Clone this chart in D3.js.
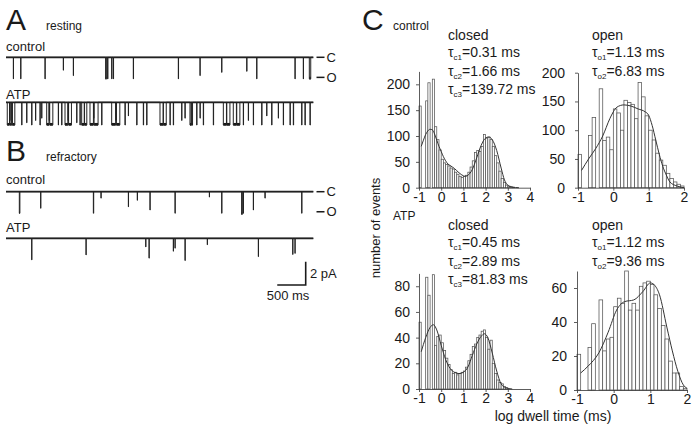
<!DOCTYPE html>
<html><head><meta charset="utf-8">
<script src="https://cdn.jsdelivr.net/npm/d3@7"></script>
<style>
body{margin:0;background:#fff;}
svg{display:block;font-family:"Liberation Sans",Arial,sans-serif;}
text{fill:#1a1a1a;}
</style></head>
<body>
<svg id="fig" width="698" height="427"></svg>
<script>
// ---------- single-channel traces: [start ms, duration ms, fraction of unitary amplitude]
const restControlEvents = [[129,3,1],[258,4,1],[685,4,1],[1007,3,0.6],[1183,3,0.85],[1750,14,1],[1785,6,1],[1857,4,1],[1886,4,1],[2237,4,1],[3028,4,1],[3409,3,0.85],[3790,3,0.7],[4230,4,0.65],[4405,4,1],[5078,4,1],[5224,4,1],[5330,25,1]];
const restATPEvents = [[22,40,1],[66,4,0.8],[72,28,1],[105,3,0.9],[110,45,1],[276,4,1],[363,4,0.9],[451,5,1],[519,4,0.8],[597,5,1],[627,3,0.7],[715,40,1],[760,3,0.8],[768,55,1],[919,4,1],[978,5,1],[1037,50,1],[1092,4,0.8],[1100,50,1],[1242,4,0.9],[1300,5,1],[1330,45,1],[1380,40,1],[1476,60,1],[1540,4,0.7],[1548,70,1],[1681,5,1],[1857,70,1],[1932,4,0.8],[1940,60,1],[2091,5,1],[2150,3,0.6],[2297,5,1],[2413,5,1],[2472,5,1],[2706,55,1],[2766,50,1],[2882,4,1],[2940,5,1],[3087,4,0.8],[3145,4,0.7],[3233,20,1],[3258,20,1],[3351,4,1],[3410,3,0.7],[3467,5,1],[3643,5,1],[3819,55,1],[3880,55,1],[3994,55,1],[4055,55,1],[4170,4,1],[4258,4,0.8],[4346,4,1],[4493,5,1],[4581,3,0.6],[4669,4,1],[4785,3,0.7],[4873,4,1],[4991,5,1],[5049,5,1],[5196,4,1],[5254,5,1],[5342,5,1]];
const refrControlEvents = [[234,10,1],[609,3,0.77],[1535,6,1],[1669,3,0.3],[2150,3,0.7],[2307,3,0.4],[2530,3,0.85],[2970,4,1],[3573,3,0.25],[3790,4,1],[4140,12,1.05],[4165,8,1],[4346,3,0.85],[4551,3,0.3],[5196,4,1]];
const refrATPEvents = [[451,4,1],[1406,3,0.77],[2455,3,0.4],[2513,4,0.92],[2940,3,0.6],[2970,3,0.46],[3145,5,1.03],[3537,3,0.3],[4434,3,0.85],[5038,4,0.75],[5078,3,0.7]];
const unitaryAmp = 1.85;   // pA
const traceDuration = 5400; // ms

// ---------- dwell-time histograms (log10 ms bins)
const closedBins = [-0.95,-0.85,-0.75,-0.65,-0.55,-0.45,-0.35,-0.25,-0.15,-0.05,0.05,0.15,0.25,0.35,0.45,0.55,0.65,0.75,0.85,0.95,1.05,1.15,1.25,1.35,1.45,1.55,1.65,1.75,1.85,1.95,2.05,2.15,2.25,2.35,2.45,2.55,2.65,2.75,2.85,2.95,3.05,3.15,3.25];
const closedControl = [158,0,0,168,203,0,210,118,93,73,55,48,45,42,38,36,30,26,22,20,22,24,30,40,52,68,72,70,80,103,96,98,93,80,62,48,32,18,10,5,3,2,1];
const closedATP = [52,0,0,87,73,0,89,34,41,42,36,30,24,19,15,12,13,11,12,13,14,17,22,27,33,35,40,42,45,46,40,31,38,20,12,7,5,4,2,1,0,0,0];
const openBins = [-0.95,-0.85,-0.75,-0.65,-0.55,-0.45,-0.35,-0.25,-0.15,-0.05,0.05,0.15,0.25,0.35,0.45,0.55,0.65,0.75,0.85,0.95,1.05,1.15,1.25,1.35,1.45,1.55,1.65,1.75,1.85,1.95];
const openControl = [58,0,0,91,122,0,172,82,88,66,137,130,100,152,148,145,120,183,158,125,100,83,60,48,39,25,16,10,6,3];
const openATP = [21,0,0,25,39,0,53,23,30,31,49,54,51,70,47,51,47,61,63,64,62,56,48,38,30,17,10,10,2,1];

// fitted curves
const fitClosedControlX = [-0.9,-0.8,-0.7,-0.6,-0.5,-0.4,-0.3,-0.2,-0.1,0,0.1,0.2,0.3,0.4,0.6,0.8,1.0,1.1,1.2,1.4,1.6,1.8,2.0,2.15,2.3,2.5,2.7,2.85,3.0,3.2,3.5];
const fitClosedControlY = [80,92,103,110,113,112,104,92,80,70,60,52,46,43,37,29,23,22,24,35,58,82,96,98,93,72,38,15,5,1,0];
const fitClosedATPX = [-0.9,-0.7,-0.5,-0.35,-0.2,0,0.2,0.4,0.6,0.8,1.0,1.2,1.4,1.6,1.8,1.95,2.1,2.3,2.5,2.7,2.9,3.2];
const fitClosedATPY = [29,40,48,50,46,34,23,16,13,12,13,17,26,35,41,43,40,28,14,4,1,0];
const fitOpenControlX = [-0.9,-0.7,-0.5,-0.3,-0.1,0,0.1,0.3,0.5,0.7,0.9,1.0,1.1,1.2,1.3,1.4,1.5,1.6,1.8,2.0];
const fitOpenControlY = [30,50,68,90,120,132,140,144,142,137,132,126,108,83,58,37,22,10,3,0];
const fitOpenATPX = [-0.9,-0.7,-0.4,-0.15,0.08,0.3,0.55,0.8,1.0,1.1,1.25,1.45,1.6,1.75,1.9,2.0];
const fitOpenATPY = [10,14,22,34,47,52,53,58,63,62,56,37,23,11,3,1];

const closedXTicks = [-1,0,1,2,3,4];
const openXTicks = [-1,0,1,2];
const closedControlYTicks = [0,50,100,150,200];
const openControlYTicks = [0,50,100,150,200];
const closedATPYTicks = [0,20,40,60,80];
const openATPYTicks = [0,20,40,60];

const tauClosedControl = [["c1","0.31"],["c2","1.66"],["c3","139.72"]];
const tauOpenControl = [["o1","1.13"],["o2","6.83"]];
const tauClosedATP = [["c1","0.45"],["c2","2.89"],["c3","81.83"]];
const tauOpenATP = [["o1","1.12"],["o2","9.36"]];

// ================= drawing =================
const svg = d3.select("#fig");
const ink = "#1a1a1a";

function txt(x,y,s,size,opts={}){
  const t = svg.append("text").attr("x",x).attr("y",y).attr("font-size",size).text(s);
  if(opts.anchor) t.attr("text-anchor",opts.anchor);
  return t;
}

// ---- traces
const tx = d3.scaleLinear().domain([0,traceDuration]).range([6,313.3]);
const pxPerPA = 11.67;
function drawTrace(events, baseY, ampPA){
  const ty = d3.scaleLinear().domain([-2,0]).range([baseY+2*pxPerPA, baseY]);
  const pts = [[0,0]];
  events.forEach(([t,d,a])=>{
    pts.push([t,0],[t,-a*ampPA],[t+d,-a*ampPA],[t+d,0]);
  });
  pts.push([traceDuration,0]);
  const line = d3.line().x(p=>tx(p[0])).y(p=>ty(p[1]));
  svg.append("path").attr("d", line([[0,0],[traceDuration,0]]))
    .attr("fill","none").attr("stroke","#222").attr("stroke-width",1.8);
  // open-level noise band for longer openings
  svg.selectAll(null).data(events.filter(e=>e[1]>=10)).join("line")
    .attr("x1",e=>tx(e[0])).attr("x2",e=>tx(e[0]+e[1]))
    .attr("y1",e=>ty(-e[2]*ampPA)-0.8).attr("y2",e=>ty(-e[2]*ampPA)-0.8)
    .attr("stroke","#1a1a1a").attr("stroke-width",2.6);
  svg.append("path").attr("d", line(pts))
    .attr("fill","none").attr("stroke","#222").attr("stroke-width",1.0).attr("stroke-linejoin","miter");
  return ty;
}
function levelMarks(ty){
  [[0,"C"],[-1.72,"O"]].forEach(([v,l])=>{
    svg.append("line").attr("x1",316.5).attr("x2",324.5).attr("y1",ty(v)).attr("y2",ty(v)).attr("stroke",ink).attr("stroke-width",1.5);
    txt(326.5, ty(v)+4.5, l, 13);
  });
}

// Panel A
txt(6,30,"A",30);
txt(46,30,"resting",12);
txt(6,51,"control",13);
const tyA1 = drawTrace(restControlEvents,57.3,unitaryAmp);
levelMarks(tyA1);
txt(6,98.5,"ATP",13);
drawTrace(restATPEvents,102.3,1.95);

// Panel B
txt(6,161,"B",30);
txt(46,161,"refractory",12);
txt(6,183.5,"control",13);
const tyB1 = drawTrace(refrControlEvents,191.7,unitaryAmp);
levelMarks(tyB1);
txt(6,232,"ATP",13);
drawTrace(refrATPEvents,238.3,unitaryAmp);

// scale bar
const sbX = tx(5400)-tx(5400-500);
const sbRight = 305.7, sbBottom = 285;
svg.append("path").attr("d",`M${sbRight-sbX},${sbBottom}H${sbRight}V${sbBottom-2*pxPerPA}`)
  .attr("fill","none").attr("stroke",ink).attr("stroke-width",1.6);
txt(310,278,"2 pA",13);
txt(288,300,"500 ms",13,{anchor:"middle"});

// ---- Panel C histograms
txt(362,30,"C",30);
txt(393,29.5,"control",12);
txt(393,220,"ATP",12);

function tauBlock(x,y,title,taus){
  txt(x,y,title,14);
  taus.forEach(([sub,val],i)=>{
    const t = svg.append("text").attr("x",x).attr("y",y+17.5+18.5*i).attr("font-size",14);
    t.append("tspan").text("τ");
    t.append("tspan").attr("font-size",8).attr("dy",3).text(sub);
    t.append("tspan").attr("dy",-3).text("="+val+" ms");
  });
}
tauBlock(448,39.5,"closed",tauClosedControl);
tauBlock(592,39.5,"open",tauOpenControl);
tauBlock(448,229.5,"closed",tauClosedATP);
tauBlock(592,229.5,"open",tauOpenATP);

function histogram(cfg){
  const x = d3.scaleLinear().domain(cfg.xDomain).range(cfg.xRange);
  const y = d3.scaleLinear().domain(cfg.yDomain).range(cfg.yRange);
  const g = svg.append("g");
  const w = x(0.1)-x(0);
  g.selectAll("rect").data(cfg.bins.map((b,i)=>[b,cfg.values[i]]).filter(d=>d[1]>0)).join("rect")
    .attr("x",d=>x(d[0])-w/2).attr("width",w)
    .attr("y",d=>y(d[1])).attr("height",d=>y(0)-y(d[1]))
    .attr("fill","#fff").attr("stroke","#555").attr("stroke-width",0.75);
  g.append("path").attr("d", d3.line().curve(d3.curveMonotoneX).x(d=>x(d[0])).y(d=>y(d[1]))(cfg.fitX.map((v,i)=>[v,cfg.fitY[i]])))
    .attr("fill","none").attr("stroke","#333").attr("stroke-width",1);
  const ax = svg.append("g").attr("transform",`translate(0,${y(0)})`)
    .call(d3.axisBottom(x).tickValues(cfg.xTicks).tickFormat(d=>String(d)).tickSize(3).tickSizeOuter(0).tickPadding(cfg.xPad));
  const ay = svg.append("g").attr("transform",`translate(${x(cfg.xDomain[0])},0)`)
    .call(d3.axisLeft(y).tickValues(cfg.yTicks).tickFormat(d=>String(d)).tickSize(3).tickSizeOuter(0).tickPadding(cfg.yPad));
  [ax,ay].forEach(a=>{
    a.selectAll("text").attr("font-size",14).attr("font-family","Liberation Sans, Arial, sans-serif").attr("fill",ink);
    a.selectAll("line,path").attr("stroke","#333").attr("stroke-width",0.8);
  });
}
histogram({xDomain:[-1,4],xRange:[419,530],yDomain:[0,225],yRange:[187.7,71.4],bins:closedBins,values:closedControl,
  fitX:fitClosedControlX,fitY:fitClosedControlY,xTicks:closedXTicks,yTicks:closedControlYTicks,xPad:1,yPad:6});
histogram({xDomain:[-1,2],xRange:[578,684],yDomain:[0,200],yRange:[187.7,72.7],bins:openBins,values:openControl,
  fitX:fitOpenControlX,fitY:fitOpenControlY,xTicks:openXTicks,yTicks:openControlYTicks,xPad:1,yPad:10});
histogram({xDomain:[-1,4],xRange:[419,530],yDomain:[0,90],yRange:[389,273.4],bins:closedBins,values:closedATP,
  fitX:fitClosedATPX,fitY:fitClosedATPY,xTicks:closedXTicks,yTicks:closedATPYTicks,xPad:1,yPad:6});
histogram({xDomain:[-1,2],xRange:[577,687],yDomain:[0,70],yRange:[390,271],bins:openBins,values:openATP,
  fitX:fitOpenATPX,fitY:fitOpenATPY,xTicks:openXTicks,yTicks:openATPYTicks,xPad:1,yPad:7});

txt(553,421,"log dwell time (ms)",14,{anchor:"middle"});
svg.append("text").attr("transform","translate(380,228) rotate(-90)").attr("text-anchor","middle")
  .attr("font-size",13).text("number of events");
</script>
</body></html>
